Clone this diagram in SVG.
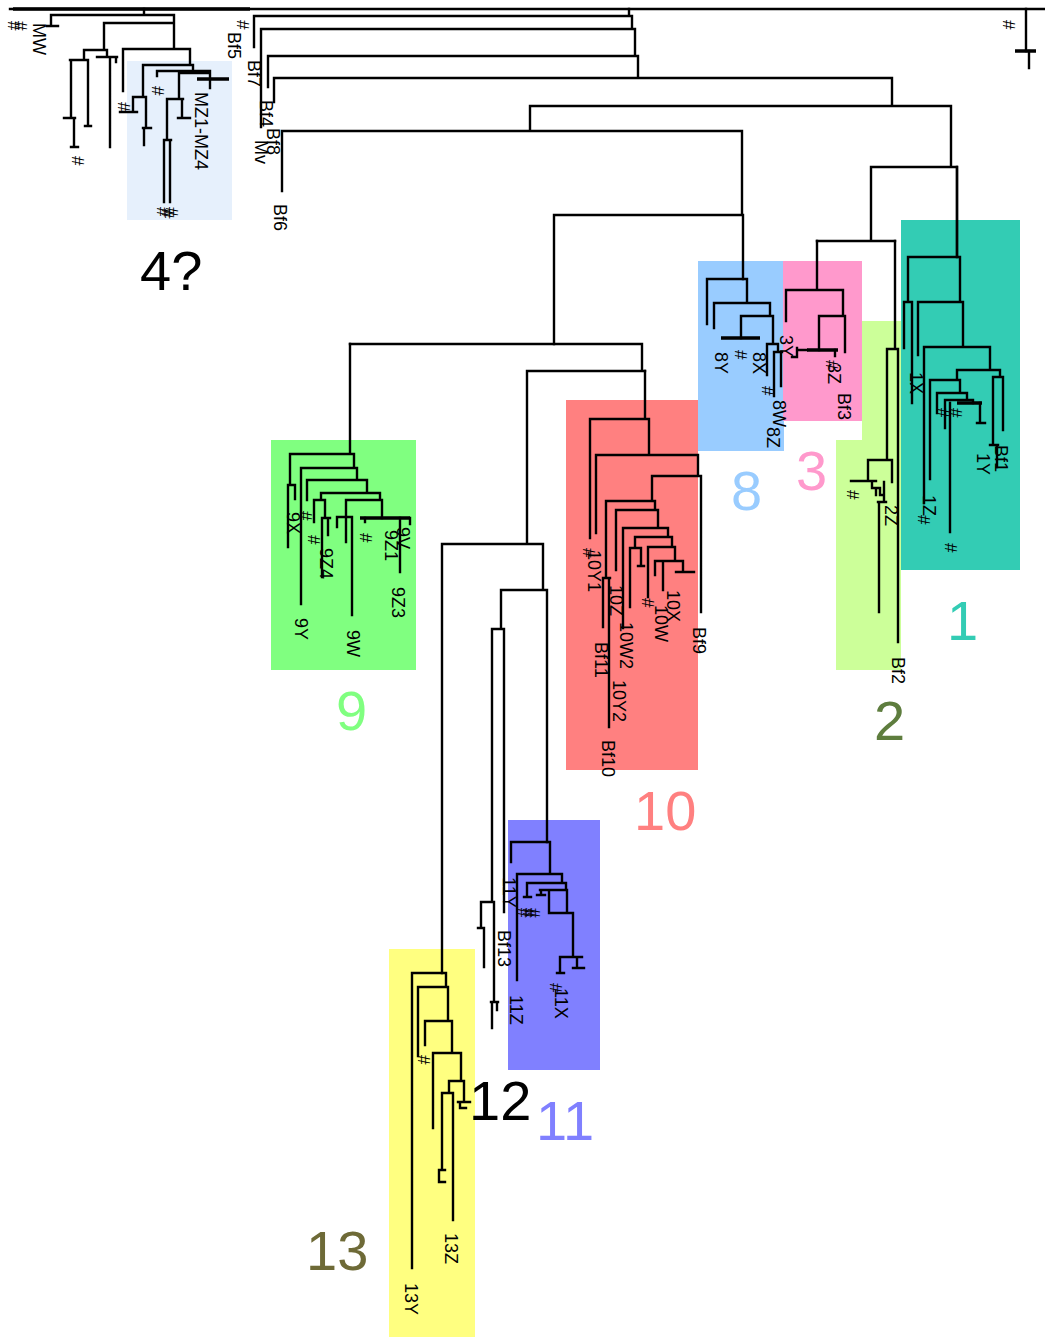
<svg xmlns="http://www.w3.org/2000/svg" width="1045" height="1337" viewBox="0 0 1045 1337">
<style>
.e{fill:none;stroke:#000;stroke-width:2.4;stroke-linecap:square}
.t{fill:none;stroke:#000;stroke-width:3.5}
.l{font-family:"Liberation Sans",Arial,sans-serif;font-size:18px;fill:#000}
.h{font-family:"Liberation Sans",Arial,sans-serif;font-size:17px;fill:#000}
.b{font-family:"Liberation Sans",Arial,sans-serif;font-size:56px}
</style>
<rect width="1045" height="1337" fill="#fff"/>
<g id="boxes">
<rect id="box4" x="127" y="61" width="105" height="159" fill="#e6f0fc"/>
<rect id="box8" x="698" y="261" width="86" height="190" fill="#99ccff"/>
<rect id="box3" x="783" y="261" width="79" height="160" fill="#ff99cc"/>
<polygon id="box2" points="862,321 901,321 901,670 836,670 836,440 862,440" fill="#ccff99"/>
<rect id="box1" x="901" y="220" width="119" height="350" fill="#33ccb4"/>
<rect id="box9" x="271" y="440" width="145" height="230" fill="#80ff80"/>
<rect id="box10" x="566" y="400" width="132" height="370" fill="#ff8080"/>
<rect id="box11" x="508" y="820" width="92" height="250" fill="#8080ff"/>
<rect id="box13" x="389" y="949" width="86" height="388" fill="#ffff80"/>
</g>
<g id="connectors">
<path class="e" d="M10 9 H1045"/>
<path class="t" d="M13 9 H250"/>
<path class="e" d="M144 9 V15 M51 15 H174 M51 15 V26 M47 26 H58 M174 15 V49 M104 23 H174 M104 23 V50 M84 50 H107 M84 50 V60 M70 60 H88 M71 60 V118 M64 118 H75 M74 118 V147 M71 147 H78 M88 60 V126 M85 126 H91 M107 50 V57 M97 57 H117 M110 57 V147 M116 57 V62 M123 49 H190 M123 49 V91 M190 49 V65 M143 65 H193 M143 65 V97 M133 97 H146 M133 97 V112 M120 112 H137 M146 97 V128 M143 128 H151 M144 128 V145 M193 65 V71 M157 71 H210 M157 71 V76 M210 71 V88 M179 73 H209 M179 73 V99 M167 99 H183 M167 99 V140 M164 140 H171 M164 140 V202 M170 140 V202 M182 99 V118 M178 118 H190"/>
<path class="t" d="M197 79 H229"/>
<path class="e" d="M629 9 V16 M254 16 H632 M254 16 V47 M632 16 V29 M261 29 H635 M261 29 V127 M635 29 V56 M268 56 H638 M268 56 V87 M638 56 V78 M274 78 H892 M274 78 V102 M892 78 V106 M530 106 H951 M530 106 V131 M282 131 H742 M282 131 V191 M742 131 V215 M554 215 H743 M743 215 V279 M554 215 V344 M951 106 V167 M871 167 H957 M871 167 V241 M817 241 H895 M957 167 V257 M1026 9 V51 M1029 51 V68"/>
<path class="t" d="M1015 51 H1036"/>
<path class="e" d="M707 279 H747 M707 279 V324 M747 279 V303 M714 303 H770 M714 303 V328 M770 303 V316 M741 316 H773 M741 316 V338 M773 316 V344 M767 344 H778 M767 344 V375 M778 344 V352 M774 352 H782 M774 352 V396 M781 352 V386"/>
<path class="t" d="M721 338 H760"/>
<path class="e" d="M817 241 V290 M786 290 H843 M786 290 V321 M843 290 V316 M819 316 H845 M819 316 V350 M845 316 V352 M797 350 H807 M797 348 V357 H792 M835 350 V356"/>
<path class="t" d="M807 350 H838"/>
<path class="e" d="M957 167 V257 M908 257 H960 M908 257 V302 M904 302 H912 M904 302 V348 M912 302 V403 M960 257 V302 M918 302 H963 M918 302 V355 M963 302 V347 M924 347 H990 M924 347 V503 M990 347 V370 M957 370 H1000 M1000 370 V377 M993 377 H1003 M993 377 V445 M990 445 H998 M997 445 V467 M1003 377 V430 M957 370 V380 M930 380 H960 M930 380 V479 M960 380 V393 M937 393 H967 M937 393 V413 M967 393 V400 M945 400 H973 M945 400 V428 M950 403 V532 M973 400 V403 M980 403 V423 M977 423 H985"/>
<path class="t" d="M957 403 H982"/>
<path class="e" d="M895 241 V349 M887 349 H898 M887 349 V460 M898 349 V642 M868 460 H892 M892 460 V482 M868 460 V481 M851 481 H876 M872 481 V488 H880 V495 H884 M876 488 V495 M884 482 V502 M878 502 H886 M879 502 V612"/>
<path class="e" d="M350 344 H642 M642 344 V371 M527 371 H645 M527 371 V544 M442 544 H543 M442 544 V973 M543 544 V590 M501 590 H547 M501 590 V629 M492 629 H504 M492 629 V902 M504 629 V912 M481 902 H494 M481 902 V928 M478 928 H484 M484 928 V967 M494 902 V1002 M491 1002 H498 M492 1002 V1028 M497 1002 V1010 M547 590 V842"/>
<path class="e" d="M350 344 V454 M290 454 H354 M290 454 V485 M288 485 H295 M288 485 V547 M295 485 V499 M354 454 V468 M301 468 H357 M301 468 V604 M357 468 V480 M307 480 H367 M307 480 V500 M367 480 V493 M321 493 H380 M321 493 V500 M314 500 H325 M314 500 V522 M325 500 V518 M322 518 H330 M322 518 V577 M328 518 V535 M380 493 V500 M346 500 H382 M346 500 V542 M337 517 H352 M337 517 V527 M352 517 V615 M382 500 V518 M365 518 V522 M400 518 V572 M410 518 V524"/>
<path class="t" d="M360 518 H410"/>
<path class="e" d="M645 371 V419 M590 419 H649 M590 419 V538 M649 419 V455 M596 455 H698 M596 455 V533 M698 455 V476 M652 476 H701 M701 476 V612 M652 476 V501 M606 501 H655 M606 501 V578 M603 578 H610 M603 578 V627 M609 578 V727 M655 501 V510 M616 510 H658 M616 510 V570 M658 510 V528 M623 528 H668 M623 528 V628 M668 528 V537 M635 537 H672 M635 537 V548 M630 548 H641 M630 548 V607 M641 548 V566 M638 566 H644 M672 537 V547 M648 547 H675 M648 547 V597 M675 547 V561 M655 561 H683 M655 561 V575 M663 561 V590 M683 561 V572 M676 572 H694"/>
<path class="e" d="M511 842 H550 M511 842 V862 M550 842 V874 M517 874 H562 M517 874 V980 M562 874 V883 M527 883 H566 M527 883 V897 M524 897 H531 M566 883 V890 M540 890 H567 M541 890 V895 M537 895 H545 M549 890 V913 M567 890 V913 M549 913 H573 M573 913 V957 M560 957 H582 M560 957 V973 M557 973 H564 M577 957 V968 M573 968 H584"/>
<path class="e" d="M412 973 H446 M412 973 V1268 M446 973 V987 M418 987 H448 M418 987 V1056 M448 987 V1021 M425 1021 H452 M425 1021 V1045 M452 1021 V1053 M433 1053 H461 M433 1053 V1128 M461 1053 V1081 M449 1081 H464 M464 1081 V1102 M458 1102 H470 M460 1102 V1108 H466 M449 1081 V1093 M442 1093 H453 M442 1093 V1170 M439 1170 V1182 M439 1170 H445 M439 1182 H445 M453 1093 V1220"/>
</g>
<g id="leaf-labels">
<text class="l" transform="translate(33,23) rotate(90)">MW</text>
<text class="h" transform="translate(8,21) rotate(90)">#</text>
<text class="h" transform="translate(15,21) rotate(90)">#</text>
<text class="h" transform="translate(72,156) rotate(90)">#</text>
<text class="h" transform="translate(118,102) rotate(90)">#</text>
<text class="h" transform="translate(152,86) rotate(90)">#</text>
<text class="h" transform="translate(157,207) rotate(90)">#</text>
<text class="h" transform="translate(162,209) rotate(90)">#</text>
<text class="h" transform="translate(166,207) rotate(90)">#</text>
<text class="l" transform="translate(195,92) rotate(90)">MZ1-MZ4</text>
<text class="h" transform="translate(237,20) rotate(90)">#</text>
<text class="l" transform="translate(228,32) rotate(90)">Bf5</text>
<text class="l" transform="translate(248,60) rotate(90)">Bf7</text>
<text class="l" transform="translate(260,100) rotate(90)">Bf4</text>
<text class="l" transform="translate(267,128) rotate(90)">Bf8</text>
<text class="l" transform="translate(255,140) rotate(90)">Mv</text>
<text class="l" transform="translate(274,204) rotate(90)">Bf6</text>
<text class="h" transform="translate(1003,20) rotate(90)">#</text>
<text class="l" transform="translate(715,352) rotate(90)">8Y</text>
<text class="h" transform="translate(735,350) rotate(90)">#</text>
<text class="l" transform="translate(753,352) rotate(90)">8X</text>
<text class="h" transform="translate(762,386) rotate(90)">#</text>
<text class="l" transform="translate(773,400) rotate(90)">8W</text>
<text class="l" transform="translate(767,427) rotate(90)">8Z</text>
<text class="l" transform="translate(780,335) rotate(90)">3Y</text>
<text class="h" transform="translate(826,360) rotate(90)">#</text>
<text class="l" transform="translate(828,363) rotate(90)">3Z</text>
<text class="l" transform="translate(838,393) rotate(90)">Bf3</text>
<text class="l" transform="translate(910,372) rotate(90)">1X</text>
<text class="l" transform="translate(995,445) rotate(90)">Bf1</text>
<text class="l" transform="translate(977,453) rotate(90)">1Y</text>
<text class="l" transform="translate(923,495) rotate(90)">1Z</text>
<text class="h" transform="translate(918,515) rotate(90)">#</text>
<text class="h" transform="translate(945,543) rotate(90)">#</text>
<text class="h" transform="translate(938,408) rotate(90)">#</text>
<text class="h" transform="translate(950,408) rotate(90)">#</text>
<text class="h" transform="translate(847,490) rotate(90)">#</text>
<text class="l" transform="translate(885,505) rotate(90)">2Z</text>
<text class="l" transform="translate(892,657) rotate(90)">Bf2</text>
<text class="l" transform="translate(287,512) rotate(90)">9X</text>
<text class="h" transform="translate(300,511) rotate(90)">#</text>
<text class="h" transform="translate(308,535) rotate(90)">#</text>
<text class="l" transform="translate(320,548) rotate(90)">9Z4</text>
<text class="l" transform="translate(295,618) rotate(90)">9Y</text>
<text class="l" transform="translate(347,630) rotate(90)">9W</text>
<text class="h" transform="translate(360,533) rotate(90)">#</text>
<text class="l" transform="translate(385,530) rotate(90)">9Z1</text>
<text class="l" transform="translate(397,527) rotate(90)">9V</text>
<text class="l" transform="translate(392,587) rotate(90)">9Z3</text>
<text class="h" transform="translate(583,548) rotate(90)">#</text>
<text class="l" transform="translate(588,550) rotate(90)">10Y1</text>
<text class="l" transform="translate(610,585) rotate(90)">10Z</text>
<text class="h" transform="translate(642,598) rotate(90)">#</text>
<text class="l" transform="translate(667,590) rotate(90)">10X</text>
<text class="l" transform="translate(655,605) rotate(90)">10W</text>
<text class="l" transform="translate(693,627) rotate(90)">Bf9</text>
<text class="l" transform="translate(620,622) rotate(90)">10W2</text>
<text class="l" transform="translate(595,642) rotate(90)">Bf11</text>
<text class="l" transform="translate(613,680) rotate(90)">10Y2</text>
<text class="l" transform="translate(602,740) rotate(90)">Bf10</text>
<text class="l" transform="translate(503,877) rotate(90)">11Y</text>
<text class="h" transform="translate(518,908) rotate(90)">#</text>
<text class="h" transform="translate(523,908) rotate(90)">#</text>
<text class="h" transform="translate(528,908) rotate(90)">#</text>
<text class="l" transform="translate(498,930) rotate(90)">Bf13</text>
<text class="h" transform="translate(550,983) rotate(90)">#</text>
<text class="l" transform="translate(555,988) rotate(90)">11X</text>
<text class="l" transform="translate(510,995) rotate(90)">11Z</text>
<text class="h" transform="translate(418,1055) rotate(90)">#</text>
<text class="l" transform="translate(445,1233) rotate(90)">13Z</text>
<text class="l" transform="translate(405,1283) rotate(90)">13Y</text>
</g>
<g id="group-labels">
<text class="b" x="140" y="290" fill="#000">4?</text>
<text class="b" x="731" y="510" fill="#99ccff">8</text>
<text class="b" x="796" y="490" fill="#ff99cc">3</text>
<text class="b" x="947" y="640" fill="#33ccb4">1</text>
<text class="b" x="874" y="740" fill="#5e7d3e">2</text>
<text class="b" x="336" y="730" fill="#80ff80">9</text>
<text class="b" x="634" y="830" fill="#ff8080">10</text>
<text class="b" x="536" y="1140" fill="#8080ff">11</text>
<text class="b" x="469" y="1120" fill="#000">12</text>
<text class="b" x="306" y="1270" fill="#6e6a37">13</text>
</g>
</svg>
